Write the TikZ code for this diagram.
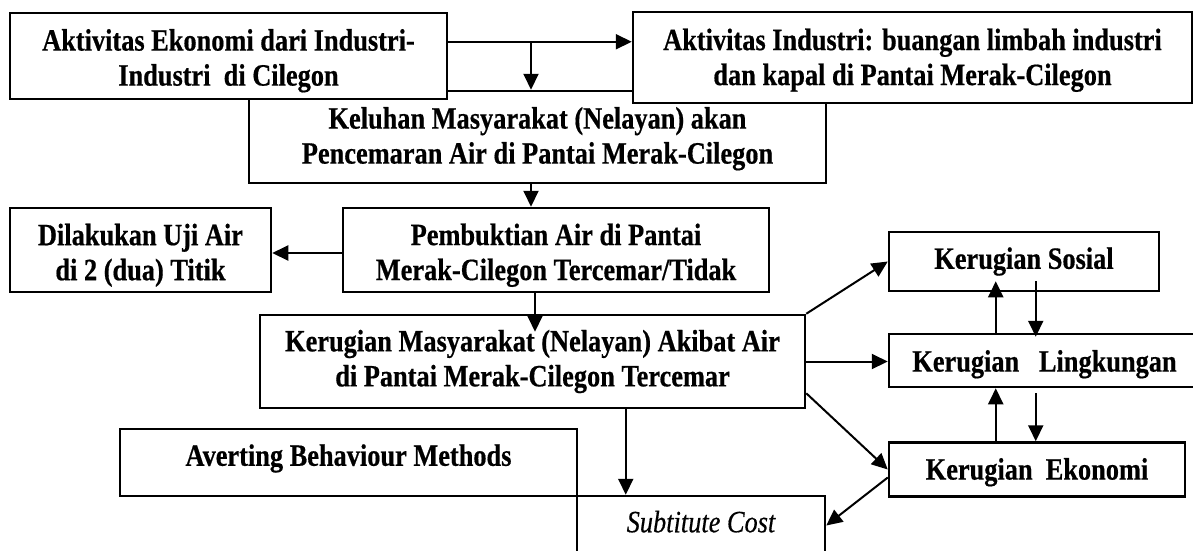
\documentclass[tikz,border=0pt]{standalone}
\usepackage{fontspec}
\setmainfont{Liberation Serif}[FakeStretch=0.85, BoldFeatures={FakeBold=0.5}, ItalicFeatures={FakeBold=0.4}]
\usetikzlibrary{arrows.meta,calc}
\newcommand\tup[1]{\rule{0pt}{#1}}
\newcommand\tdn[1]{\rule[-#1]{0pt}{0pt}}
\begin{document}
\begin{tikzpicture}[x=1pt,y=-1pt,
  box/.style={draw, line width=2.5pt, fill=white, inner sep=0pt, align=center,
    font=\bfseries\fontsize{31}{35}\selectfont},
  arr/.style={line width=2pt, -{Triangle[length=16pt,width=15pt]}}]
\useasboundingbox (0,0) rectangle (1193,550);
\clip (0,0) rectangle (1193,550);
\fill[white] (0,0) rectangle (1193,550);

% top row
\node[box, minimum width=577pt, minimum height=92pt] (kel) at (537.5,137)
  {\tup{25pt}Keluhan Masyarakat (Nelayan) akan\\Pencemaran Air di Pantai Merak-Cilegon};
\node[box, minimum width=437pt, minimum height=86pt] (box1) at (228.5,56)
  {\tup{31pt}Aktivitas Ekonomi dari Industri-\\Industri\ \ di Cilegon};
\node[box, minimum width=559pt, minimum height=91pt] (box2) at (912.5,57.5)
  {\tup{27pt}Aktivitas Industri: buangan limbah industri\\dan kapal di Pantai Merak-Cilegon};

% middle
\node[box, minimum width=261pt, minimum height=84pt] (dil) at (140.5,250)
  {\tup{32pt}Dilakukan Uji Air\\di 2 (dua) Titik};
\node[box, minimum width=426pt, minimum height=84pt] (pem) at (556,250)
  {\tup{32pt}Pembuktian Air di Pantai\\Merak-Cilegon Tercemar/Tidak};
\node[box, minimum width=545pt, minimum height=93pt] (km) at (532.5,361.5)
  {Kerugian Masyarakat (Nelayan) Akibat Air\\di Pantai Merak-Cilegon Tercemar};

% right column
\node[box, minimum width=270pt, minimum height=59pt] (sos) at (1024,261.5)
  {Kerugian Sosial};
\node[box, minimum width=311pt, minimum height=53pt] (lin) at (1044.5,360.5)
  {\tup{29pt}Kerugian\ \ \ Lingkungan};
\node[box, minimum width=296pt, minimum height=54pt] (eko) at (1037,469.5)
  {\tup{27pt}Kerugian\ \ Ekonomi};

% bottom
\node[box, minimum width=457pt, minimum height=67pt] (avb) at (348.5,462.5)
  {Averting Behaviour Methods\tdn{15pt}};
\node[box, minimum width=248pt, minimum height=59pt, font=\itshape\fontsize{31}{35}\selectfont] (sub) at (701,525.5)
  {Subtitute Cost\tdn{8pt}};

% connectors
\draw[arr] ($(box1.north east)+(0,30)$) -- ($(box2.north west)+(0,31)$);
\coordinate (j1) at (531,43);
\draw[arr] (j1) -- (j1 |- kel.north);
\draw[arr] (j1 |- kel.south) -- (j1 |- pem.north);
\draw[arr] ($(pem.west)+(0,3)$) -- ($(pem.west -| dil.east)+(0,3)$);
\draw[arr] ($(pem.south)+(-21,0)$) -- ($(pem.south |- km.north)+(-21,18)$);
\draw[arr] (km.north east) -- (sos.west);
\draw[arr] (km.east) -- (km.east -| lin.west);
\draw[arr] ($(km.south east)+(0,-16)$) -- (eko.west);
\coordinate (j2) at ($(sub.north west)+(50,0)$);
\draw[arr] (j2 |- km.south) -- (j2);
\draw[arr] ($(eko.west)+(0,8)$) -- (sub.east);

\coordinate (u) at ($(sos.west)+(108,0)$);
\coordinate (d) at ($(sos.west)+(148,0)$);
\draw[arr] (u |- lin.north) -- ($(u |- sos.south)+(0,-11)$);
\draw[arr] ($(d |- sos.south)+(0,-11)$) -- ($(d |- lin.north)+(0,4)$);
\draw[arr] (u |- eko.north) -- (u |- lin.south);
\draw[arr] ($(d |- lin.south)+(0,5)$) -- (d |- eko.north);
\end{tikzpicture}
\end{document}
